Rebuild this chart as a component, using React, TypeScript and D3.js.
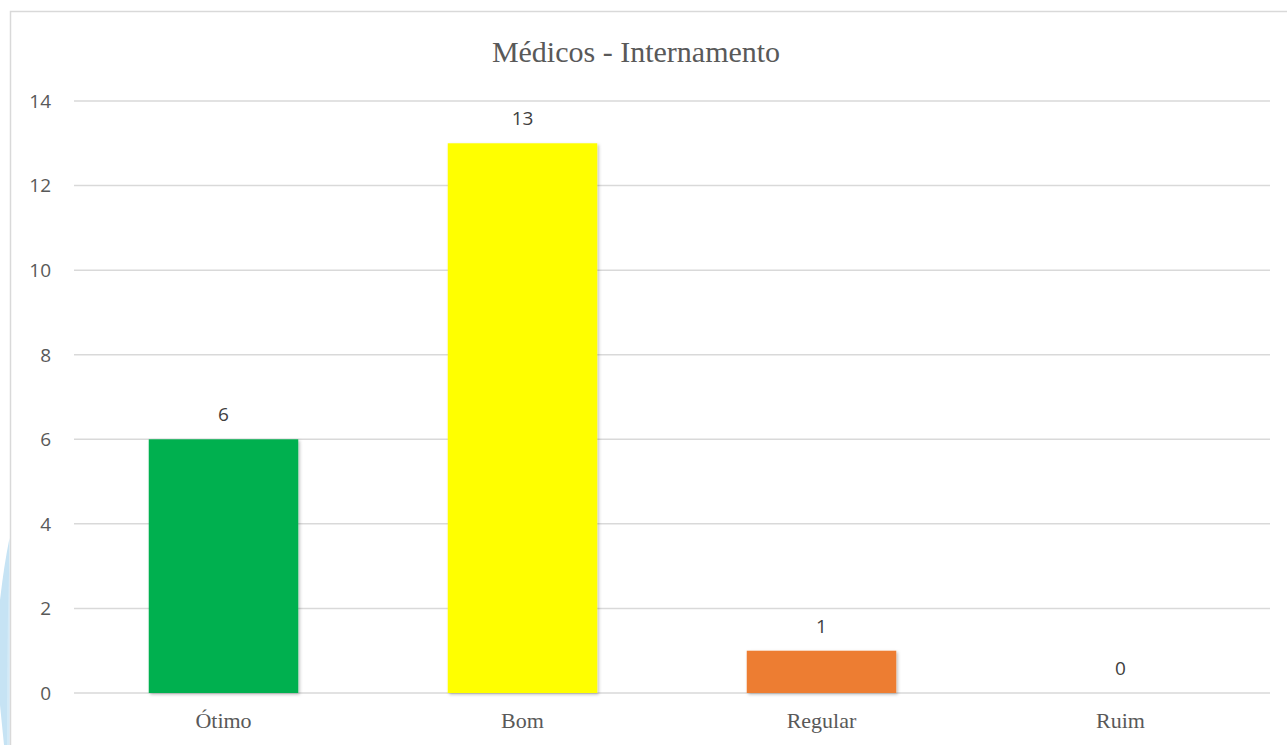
import React from "react";
import * as d3 from "d3";

const title = "Médicos - Internamento";
const categories = ["Ótimo", "Bom", "Regular", "Ruim"];
const values = [6, 13, 1, 0];
const colors = ["#00b050", "#ffff00", "#ed7d31", "#a5a5a5"];
const yTicks = [0, 2, 4, 6, 8, 10, 12, 14];

const W = 1287;
const H = 745;

export default function App() {
  const x = d3
    .scaleBand<string>()
    .domain(categories)
    .range([74, 1270])
    .paddingInner(0.5)
    .paddingOuter(0.25);
  const y = d3.scaleLinear().domain([0, 14]).range([693, 101]);

  const sans = "'Open Sans', 'Liberation Sans', sans-serif";
  const serif = "'Liberation Serif', 'Times New Roman', serif";

  return (
    <svg
      width={W}
      height={H}
      style={{ position: "absolute", left: 0, top: 0, background: "#fff" }}
    >
      <defs>
        <filter id="sh" x="-10%" y="-10%" width="130%" height="130%">
          <feDropShadow dx="1.5" dy="1.5" stdDeviation="1.5" floodColor="#000" floodOpacity="0.25" />
        </filter>
      </defs>
      {/* left light-blue decoration */}
      <path d="M 9.5 538 Q 4 565, 0 600 L 0 705 L 4 745 L 9.5 745 Z" fill="#c6e3f4" />
      <path d="M 9.5 560 Q 7 620, 7 745 L 9.5 745 Z" fill="#d3eaf7" />
      {/* border */}
      <rect x={10.5} y={11.5} width={1400} height={900} fill="none" stroke="#d9d9d9" strokeWidth={1.5} />
      {/* title */}
      <text
        x={636}
        y={62}
        textAnchor="middle"
        fontFamily={serif}
        fontSize={30}
        fill="#595959"
      >
        {title}
      </text>
      {/* gridlines */}
      {yTicks.map((t) => (
        <line key={t} x1={74} x2={1270} y1={y(t)} y2={y(t)} stroke="#d9d9d9" strokeWidth={1.5} />
      ))}
      {/* y tick labels */}
      {yTicks.map((t) => (
        <text
          key={"l" + t}
          x={51}
          y={y(t)}
          dy="0.36em"
          textAnchor="end"
          fontFamily={sans}
          fontSize={19}
          fill="#595959"
        >
          {t}
        </text>
      ))}
      {/* bars */}
      {categories.map((c, i) =>
        values[i] > 0 ? (
          <rect
            key={c}
            x={x(c)}
            y={y(values[i])}
            width={x.bandwidth()}
            height={y(0) - y(values[i])}
            fill={colors[i]}
            filter="url(#sh)"
          />
        ) : null
      )}
      {/* data labels */}
      {categories.map((c, i) => (
        <text
          key={"d" + c}
          x={(x(c) as number) + x.bandwidth() / 2}
          y={y(values[i]) - 18}
          textAnchor="middle"
          fontFamily={sans}
          fontSize={19}
          fill="#404040"
        >
          {values[i]}
        </text>
      ))}
      {/* x labels */}
      {categories.map((c) => (
        <text
          key={"x" + c}
          x={(x(c) as number) + x.bandwidth() / 2}
          y={728}
          textAnchor="middle"
          fontFamily={serif}
          fontSize={22}
          fill="#595959"
        >
          {c}
        </text>
      ))}
    </svg>
  );
}
